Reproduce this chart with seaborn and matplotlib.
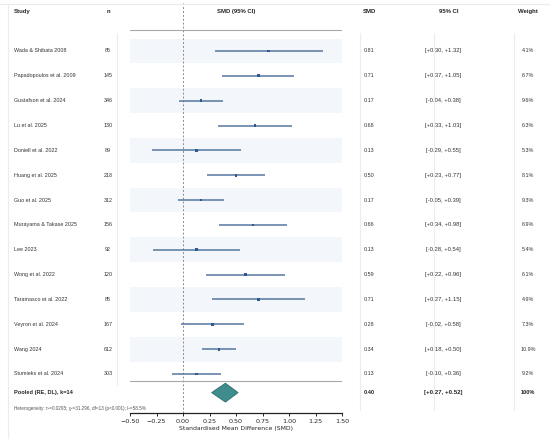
import numpy as np
import pandas as pd
import seaborn as sns
from matplotlib import pyplot as plt
from matplotlib import transforms
from matplotlib.lines import Line2D
from matplotlib.patches import Polygon

studies = ['Wada & Shibata 2008', 'Papadopoulos et al. 2009', 'Gustafson et al. 2024',
           'Lu et al. 2025', 'Doniell et al. 2022', 'Huang et al. 2025', 'Guo et al. 2025',
           'Murayama & Takase 2025', 'Lee 2023', 'Wong et al. 2022', 'Taramasco et al. 2022',
           'Veyron et al. 2024', 'Wang 2024', 'Stumieks et al. 2024']
n_sizes = [65, 145, 346, 130, 89, 218, 312, 156, 92, 120, 85, 167, 612, 303]
smd = [0.81, 0.71, 0.17, 0.68, 0.13, 0.50, 0.17, 0.66, 0.13, 0.59, 0.71, 0.28, 0.34, 0.13]
ci_low = [0.30, 0.37, -0.04, 0.33, -0.29, 0.23, -0.05, 0.34, -0.28, 0.22, 0.27, -0.02, 0.18, -0.10]
ci_high = [1.32, 1.05, 0.38, 1.03, 0.55, 0.77, 0.39, 0.98, 0.54, 0.96, 1.15, 0.58, 0.50, 0.36]
weights = [4.1, 6.7, 9.6, 6.3, 5.3, 8.1, 9.3, 6.9, 5.4, 6.1, 4.9, 7.3, 10.9, 9.2]

pooled_smd = 0.40
pooled_low = 0.27
pooled_high = 0.52
k = 14
heterogeneity = 'Heterogeneity: τ²=0.0295; χ²=31.296, df=13 (p<0.001); I²=58.5%'

df = pd.DataFrame({'study': studies, 'n': n_sizes, 'smd': smd,
                   'low': ci_low, 'high': ci_high, 'weight': weights})
df['row'] = np.arange(len(df))


def fmt_signed(v):
    return f'{v:+.2f}' if v >= 0 else f'{v:.2f}'


sns.set_theme(style='white')
plt.rcParams['font.family'] = ['Liberation Sans', 'DejaVu Sans']

W, H = 550, 443
fig = plt.figure(figsize=(W / 100, H / 100), dpi=100)
ax = fig.add_axes([130 / W, 30 / H, 212 / W, 410 / H])

# row bands
for r in df['row']:
    if r % 2 == 0:
        ax.axhspan(r - 0.5, r + 0.5, color='#f3f6fb', zorder=0, lw=0)

ax.hlines(df['row'], df['low'], df['high'], color='#56779f', lw=1.1, zorder=2)
sns.scatterplot(data=df, x='smd', y='row', marker='s', s=4, color='#2f5a8f',
                edgecolor='none', ax=ax, zorder=3, legend=False)

pooled_y = 13.75
diamond = Polygon([[pooled_low, pooled_y], [pooled_smd, pooled_y - 0.38],
                   [pooled_high, pooled_y], [pooled_smd, pooled_y + 0.38]],
                  closed=True, facecolor='#3e8c8c', edgecolor='#2d6f70', lw=0.6, zorder=3)
ax.add_patch(diamond)

ax.axvline(0, color='#8a8a8a', ls=(0, (2, 2)), lw=0.7, zorder=1)
ax.axhline(-0.85, color='#a8a8a8', lw=0.8)
ax.axhline(13.3, color='#a8a8a8', lw=0.8)

ax.set_xlim(-0.5, 1.5)
ax.set_ylim(14.57, -1.93)
ticks = np.arange(-0.5, 1.51, 0.25)
ax.set_xticks(ticks)
ax.set_xticklabels([f'{t:.2f}'.replace('-', '\u2212') for t in ticks], family='DejaVu Sans')
ax.set_yticks([])
ax.set_ylabel('')
ax.set_xlabel('Standardised Mean Difference (SMD)', fontsize=4.4, labelpad=1.5, family='DejaVu Sans')
ax.tick_params(axis='x', labelsize=4.6, length=2.5, width=0.7, direction='out', pad=1.5, bottom=True)
for side in ['left', 'right', 'top']:
    ax.spines[side].set_visible(False)
ax.spines['bottom'].set_color('#222222')
ax.spines['bottom'].set_linewidth(0.9)

# table columns
tr = transforms.blended_transform_factory(fig.transFigure, ax.transData)
fs = 3.9
hfs = 4.3
head_y = -1.57
col_study = 14 / W
col_n = 108 / W
col_smd = 369 / W
col_ci = 443 / W
col_w = 528 / W
txt = '#333333'

ax.text(col_study, head_y, 'Study', transform=tr, fontsize=hfs, fontweight='bold', va='center', ha='left', clip_on=False)
ax.text(col_n, head_y, 'n', transform=tr, fontsize=hfs, fontweight='bold', va='center', ha='center', clip_on=False)
ax.text(236 / W, head_y, 'SMD (95% CI)', transform=tr, fontsize=hfs, fontweight='bold', va='center', ha='center', clip_on=False)
ax.text(col_smd, head_y, 'SMD', transform=tr, fontsize=hfs, fontweight='bold', va='center', ha='center', clip_on=False)
ax.text(449 / W, head_y, '95% CI', transform=tr, fontsize=hfs, fontweight='bold', va='center', ha='center', clip_on=False)
ax.text(col_w, head_y, 'Weight', transform=tr, fontsize=hfs, fontweight='bold', va='center', ha='center', clip_on=False)

for _, row in df.iterrows():
    y = row['row']
    ax.text(col_study, y, row['study'], transform=tr, fontsize=fs, va='center', ha='left', color=txt, clip_on=False)
    ax.text(col_n, y, f"{int(row['n'])}", transform=tr, fontsize=fs, va='center', ha='center', color=txt, clip_on=False)
    ax.text(col_smd, y, f"{row['smd']:.2f}", transform=tr, fontsize=fs, va='center', ha='center', color=txt, clip_on=False)
    ax.text(col_ci, y, f"[{fmt_signed(row['low'])}, {fmt_signed(row['high'])}]", transform=tr,
            fontsize=fs + 0.3, va='center', ha='center', color=txt, clip_on=False)
    ax.text(col_w, y, f"{row['weight']:.1f}%", transform=tr, fontsize=fs, va='center', ha='center', color=txt, clip_on=False)

pfs = 4.1
ax.text(col_study, pooled_y, f'Pooled (RE, DL), k={k}', transform=tr, fontsize=pfs, fontweight='bold',
        va='center', ha='left', clip_on=False)
ax.text(col_smd, pooled_y, f'{pooled_smd:.2f}', transform=tr, fontsize=pfs, fontweight='bold', va='center', ha='center', clip_on=False)
ax.text(col_ci, pooled_y, f'[{fmt_signed(pooled_low)}, {fmt_signed(pooled_high)}]', transform=tr,
        fontsize=pfs + 0.3, fontweight='bold', va='center', ha='center', clip_on=False)
ax.text(col_w, pooled_y, '100%', transform=tr, fontsize=pfs, fontweight='bold', va='center', ha='center', clip_on=False)
ax.text(col_study, 14.37, heterogeneity, transform=tr, fontsize=3.3, va='center', ha='left', color='#555555', clip_on=False)

# faint panel borders
light = '#ececec'
fig.add_artist(Line2D([0, 1], [1 - 4 / H, 1 - 4 / H], transform=fig.transFigure, color=light, lw=0.8))
fig.add_artist(Line2D([8 / W, 8 / W], [1 - 4 / H, 1 - 438 / H], transform=fig.transFigure, color=light, lw=0.8))
fig.add_artist(Line2D([117 / W, 117 / W], [1 - 33 / H, 1 - 385 / H], transform=fig.transFigure, color=light, lw=0.8))
for xp in [360, 434, 514]:
    fig.add_artist(Line2D([xp / W, xp / W], [1 - 33 / H, 1 - 410 / H], transform=fig.transFigure, color=light, lw=0.8))

fig.savefig('out.png', dpi=100, facecolor='white')
plt.close(fig)
